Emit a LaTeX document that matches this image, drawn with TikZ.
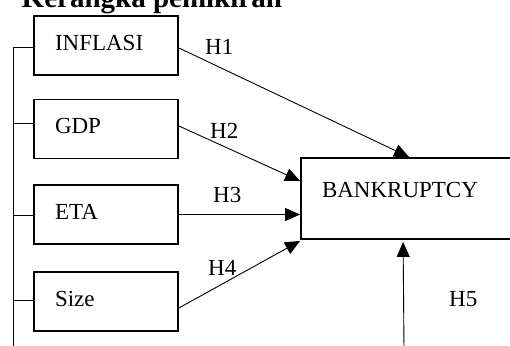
\documentclass[tikz,border=0pt]{standalone}
\usepackage{fontspec}
\setmainfont{Liberation Serif}
\usetikzlibrary{arrows.meta,calc}
\begin{document}
\begin{tikzpicture}[x=1pt,y=-1pt,
  every node/.style={font=\fontsize{23}{27}\selectfont},
  varbox/.style={draw,line width=1.8pt,minimum width=144pt,minimum height=59pt,
    text width=102pt,inner xsep=21pt,inner ysep=0pt,align=left,
    text height=14pt,text depth=5pt},
  targetbox/.style={draw,line width=1.8pt,minimum width=219pt,minimum height=81pt,
    text width=177pt,inner xsep=21pt,inner ysep=0pt,align=left,
    text height=14pt,text depth=17pt},
  link/.style={line width=0.9pt},
  hyp/.style={link,-{Triangle[length=15pt,width=13pt]}},
  hlabel/.style={anchor=base west,inner sep=0pt}
]
\clip (0,0) rectangle (510,345);

% title
\node[anchor=base west,inner sep=0pt,font=\fontsize{29}{33}\selectfont\bfseries]
  (title) at (21.5,8) {Kerangka pemikiran};

% independent variables
\node[varbox] (inflasi) at (106,45.5) {INFLASI};
\node[varbox] (gdp)     at (106,129)  {GDP};
\node[varbox] (eta)     at (106,214.5){ETA};
\node[varbox] (size)    at (106,301.5){Size};

% dependent variable
\node[targetbox] (bankrupt) at (410.5,198.5) {BANKRUPTCY};

% bracket joining the variables on the left
\coordinate (spinetop) at (13,47);
\coordinate (spinebot) at (13,350);
\coordinate (t1) at (13,47);
\coordinate (t2) at (13,123);
\coordinate (t3) at (13,215);
\coordinate (t4) at (13,300);
\draw[link] (spinetop) -- (spinebot);
\draw[link] (t1) -- (t1 -| inflasi.west);
\draw[link] (t2) -- (t2 -| gdp.west);
\draw[link] (t3) -- (t3 -| eta.west);
\draw[link] (t4) -- (t4 -| size.west);

% hypotheses
\draw[hyp] ($(inflasi.east)+(0,2.5)$) -- ($(bankrupt.north west)+(109,0)$);
\draw[hyp] ($(gdp.east)+(0,-3)$) -- ($(bankrupt.west)+(0,-17.5)$);
\draw[hyp] (eta.east) -- ($(bankrupt.west)+(0,16)$);
\draw[hyp] ($(size.east)+(0,6.5)$) -- ($(bankrupt.south west)+(0,1)$);
\coordinate (h5start) at (404,350);
\draw[hyp] (h5start) -- ($(bankrupt.south west)+(103,2)$);

% hypothesis labels
\node[hlabel] (lh1) at (205,54)  {H1};
\node[hlabel] (lh2) at (210,138) {H2};
\node[hlabel] (lh3) at (213,202) {H3};
\node[hlabel] (lh4) at (208,275) {H4};
\node[hlabel] (lh5) at (449,306) {H5};
\end{tikzpicture}
\end{document}
